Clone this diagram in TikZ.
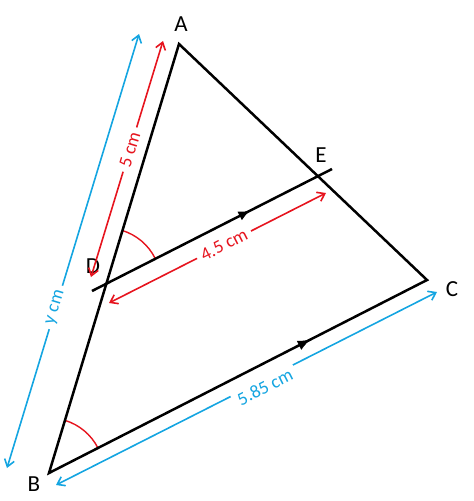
\documentclass[tikz,border=0pt]{standalone}
\usepackage{fontspec}
\setmainfont{Carlito}
\usetikzlibrary{arrows.meta,decorations.markings,angles}
\definecolor{lenred}{RGB}{230,20,30}
\definecolor{lenblue}{RGB}{20,165,225}

\begin{document}
\begin{tikzpicture}[x=1pt,y=-1pt]
        % Define styles
        \tikzset{
            side/.style={draw, line width=2.5pt},
            vertex/.style={font=\fontsize{23}{25}\selectfont},
            measure/.style={line width=1.6pt, {Straight Barb[length=7pt,width=10pt]}-{Straight Barb[length=7pt,width=10pt]}},
            lenlabel/.style={sloped, fill=white, inner sep=5pt, font=\fontsize{18.5}{20}\selectfont},
            midarrow/.style={postaction={decorate}, decoration={markings, mark=at position #1 with {\arrow{Latex[length=12pt,width=10pt]}}}},
            anglemark/.style={draw=lenred, line width=1.4pt, angle radius=55pt}
        }
        \useasboundingbox (0,0) rectangle (474,501);

        % Points
        \coordinate (A) at (179,44);
        \coordinate (B) at (49,473);
        \coordinate (C) at (427,280);
        \coordinate (D) at (106,283);
        \coordinate (E) at (319,176);
        \coordinate (de_start) at (92,291);
        \coordinate (de_end) at (332,169);

        % Labels
        \node[vertex] (label_A) at (181,24) {A};
        \node[vertex] (label_B) at (34,484) {B};
        \node[vertex] (label_C) at (452,289) {C};
        \node[vertex] (label_D) at (93,266) {D};
        \node[vertex] (label_E) at (321,155) {E};

        % Angles
        \pic[anglemark] {angle = E--D--A};
        \pic[anglemark] {angle = C--B--A};

        % Triangle
        \draw[side, line join=miter] (A) -- (B) -- (C) -- cycle;
        \path[midarrow=0.69] (B) -- (C);
        \draw[side, midarrow=0.66] (de_start) -- (de_end);

        % Lengths
        \coordinate (ad_top) at (163,41);
        \coordinate (ad_bot) at (91,277);
        \coordinate (ab_top) at (139,34);
        \coordinate (ab_bot) at (7,468);
        \coordinate (de_left) at (109,303);
        \coordinate (de_right) at (326,193);
        \coordinate (bc_left) at (56,485);
        \coordinate (bc_right) at (437,292);
        \draw[measure, lenred] (ad_top) -- (ad_bot) node[lenlabel, pos=0.46, text=lenred] {5 cm};
        \draw[measure, lenblue] (ab_top) -- (ab_bot) node[lenlabel, pos=0.63, text=lenblue] {y cm};
        \draw[measure, lenred] (de_left) -- (de_right) node[lenlabel, pos=0.53, text=lenred] {4.5 cm};
        \draw[measure, lenblue] (bc_left) -- (bc_right) node[lenlabel, pos=0.54, below=-5pt, text=lenblue] {5.85 cm};
    \end{tikzpicture}
\end{document}
